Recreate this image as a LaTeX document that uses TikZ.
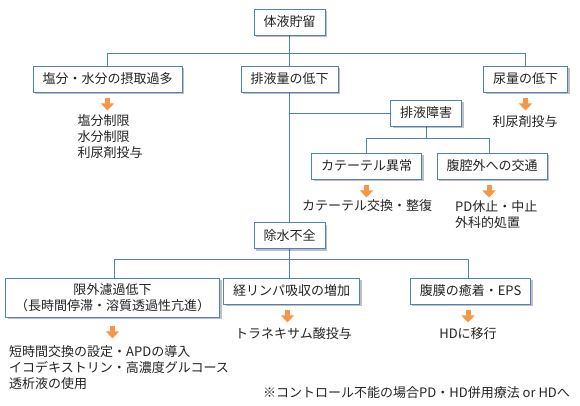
\documentclass[tikz,border=0pt]{standalone}
\usepackage{fontspec}
\setmainfont{Noto Sans CJK JP}
\usetikzlibrary{arrows.meta, shadows, backgrounds}
\definecolor{boxblue}{RGB}{79, 129, 189}
\definecolor{arrorange}{RGB}{247, 150, 70}
\definecolor{textgray}{RGB}{35, 35, 35}

\begin{document}
\begin{tikzpicture}[x=1pt, y=-1pt, font=\fontsize{13}{16}\selectfont, text=textgray,
  cbox/.style={draw=boxblue, line width=0.9pt, fill=white, inner xsep=9.5pt, inner ysep=3pt,
    minimum height=26pt, align=center,
    drop shadow={shadow xshift=2pt, shadow yshift=-2pt, opacity=0.25, fill=black}},
  link/.style={draw=boxblue, line width=0.9pt},
  oarrow/.style={draw=arrorange, line width=5pt, -{Triangle[width=13pt, length=7pt]}},
  remedy/.style={inner sep=0pt, align=left}]
  \useasboundingbox (0,0) rectangle (580,405);

  % Boxes
  \node[cbox] (top) at (289.5,22) {体液貯留};
  \node[cbox] (salt) at (107.5,79) {塩分・水分の摂取過多};
  \node[cbox] (drain) at (289.5,79) {排液量の低下};
  \node[cbox] (urine) at (525.5,79) {尿量の低下};
  \node[cbox] (obstr) at (426,113) {排液障害};
  \node[cbox] (cath) at (366.5,166) {カテーテル異常};
  \node[cbox] (leak) at (492,166) {腹腔外への交通};
  \node[cbox] (uf) at (289.5,235.5) {除水不全};
  \node[cbox, minimum height=39pt] (ufdown) at (112.5,297.5) {限外濾過低下\\（長時間停滞・溶質透過性亢進）};
  \node[cbox] (lymph) at (291.5,291) {経リンパ吸収の増加};
  \node[cbox] (eps) at (470.5,291) {腹膜の癒着・EPS};

  % Bus lines
  \coordinate (bus1) at (0,53);
  \coordinate (bus2) at (0,138);
  \coordinate (bus3) at (0,259);

  % Connectors (behind the boxes)
  \begin{scope}[on background layer]
    \draw[link] (top) -- (drain);
    \draw[link] (salt.north) |- (bus1 -| urine.north) -- (urine.north);
    \draw[link] (drain) -- (uf);
    \draw[link] (drain.south |- obstr.west) -- (obstr.west);
    \draw[link] (obstr) -- (obstr |- bus2);
    \draw[link] (cath.north) |- ([xshift=-3pt]bus2 -| leak.north) -- ([xshift=-3pt]leak.north);
    \draw[link] (uf) -- (uf |- lymph.north);
    \draw[link] ([xshift=1.5pt]ufdown.north) |- ([xshift=-2.5pt]bus3 -| eps.north) -- ([xshift=-2.5pt]eps.north);
  \end{scope}

  % Orange arrows
  \draw[oarrow] ([yshift=-6pt]salt.south) -- ++(0,12);
  \draw[oarrow] ([yshift=-6pt]urine.south) -- ++(0,12);
  \draw[oarrow] ([yshift=-6pt]cath.south) -- ++(0,12);
  \draw[oarrow] ([xshift=-3pt, yshift=-6pt]leak.south) -- ++(0,12);
  \draw[oarrow] ([yshift=-9pt]ufdown.south) -- ++(0,12);
  \draw[oarrow] ([xshift=-4pt, yshift=-6pt]lymph.south) -- ++(0,12);
  \draw[oarrow] ([xshift=-2.5pt, yshift=-6pt]eps.south) -- ++(0,12);

  % Remedies
  \node[remedy, anchor=west] (r1) at (77.5,137) {塩分制限\\水分制限\\利尿剤投与};
  \node[remedy] (r2) at (525,122) {利尿剤投与};
  \node[remedy] (r3) at (367,206) {カテーテル交換・整復};
  \node[remedy, anchor=west] (r4) at (455,214.5) {PD休止・中止\\外科的処置};
  \node[remedy, anchor=west] (r5) at (9,367.5) {短時間交換の設定・APDの導入\\イコデキストリン・高濃度グルコース\\透析液の使用};
  \node[remedy] (r6) at (293.5,334) {トラネキサム酸投与};
  \node[remedy] (r7) at (468,334) {HDに移行};

  % Note
  \node[remedy, anchor=west] (note) at (263,393) {※コントロール不能の場合PD・HD併用療法 or HDへ};
\end{tikzpicture}
\end{document}
